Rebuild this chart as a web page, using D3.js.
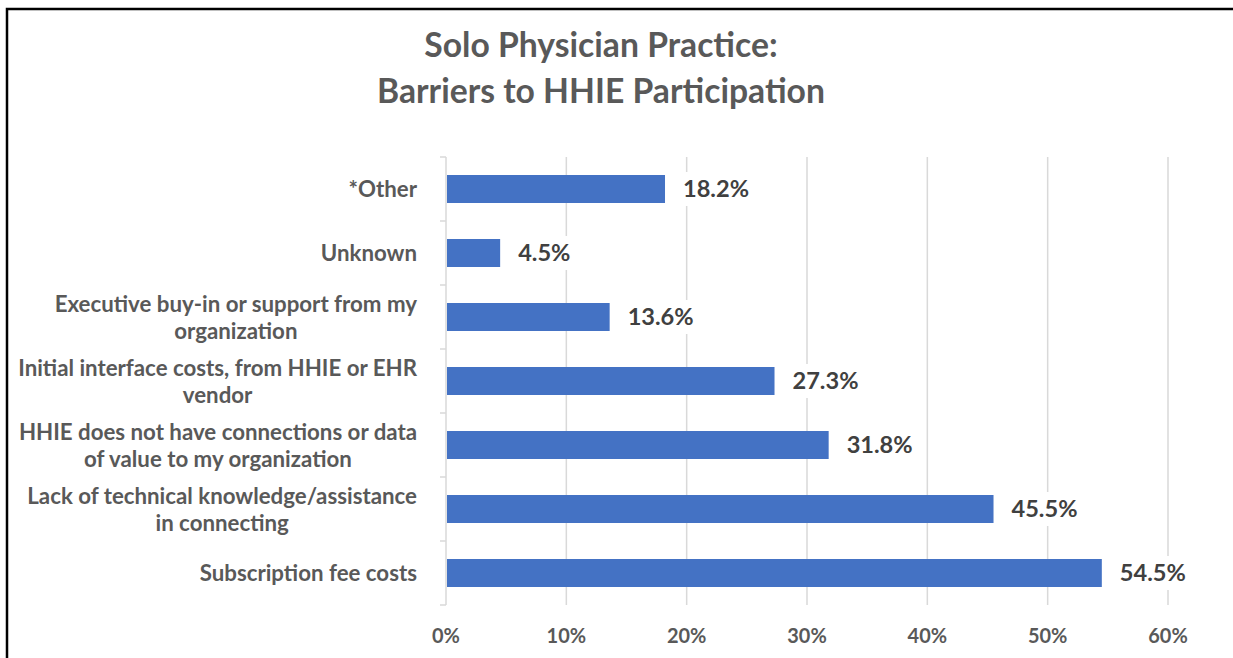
<!DOCTYPE html>
<html>
<head>
<meta charset="utf-8">
<script src="https://cdn.jsdelivr.net/npm/d3@7"></script>
<style>
  html, body { margin: 0; padding: 0; background: #fff; }
  svg { display: block; }
  text { font-family: Lato, "Open Sans", sans-serif; font-weight: 700; }
</style>
</head>
<body>
<svg id="chart" width="1233" height="658"></svg>
<script>
// ---- data ----
const categories = [
  "*Other",
  "Unknown",
  "Executive buy-in or support from my organization",
  "Initial interface costs, from HHIE or EHR vendor",
  "HHIE does not have connections or data of value to my organization",
  "Lack of technical knowledge/assistance in connecting",
  "Subscription fee costs"
];
const categoryLines = [
  ["*Other"],
  ["Unknown"],
  ["Executive buy-in or support from my", "organization"],
  ["Initial interface costs, from HHIE or EHR", "vendor"],
  ["HHIE does not have connections or data", "of value to my organization"],
  ["Lack of technical knowledge/assistance", "in connecting"],
  ["Subscription fee costs"]
];
const values = [18.2, 4.5, 13.6, 27.3, 31.8, 45.5, 54.5];
const xTicks = [0, 10, 20, 30, 40, 50, 60];
const titleLines = ["Solo Physician Practice:", "Barriers to HHIE Participation"];

// ---- setup ----
const svg = d3.select("#chart");
const W = 1233, H = 658;

// font fitting helper: size so that reference string has target width
function fitSize(str, target) {
  const t = svg.append("text").attr("font-size", 100).text(str);
  const w = t.node().getComputedTextLength();
  t.remove();
  return 100 * target / w;
}
const titleSize = fitSize(titleLines[1], 448);
const catSize = fitSize("Lack of technical knowledge/assistance", 390);
const valSize = fitSize("18.2%", 66);
const tickSize = fitSize("10%", 39.5);

// frame
svg.append("rect")
  .attr("x", 7).attr("y", 9)
  .attr("width", W + 20).attr("height", H + 20)
  .attr("fill", "none").attr("stroke", "#000").attr("stroke-width", 2.5);

// scales
const x = d3.scaleLinear().domain([0, 60]).range([446, 1168]);
const y = d3.scaleBand().domain(categories).range([157, 605])
  .paddingInner(0.5625).paddingOuter(0.28125);

// title
svg.append("g").selectAll("text").data(titleLines).join("text")
  .attr("x", 601)
  .attr("y", (d, i) => 57 + i * 46)
  .attr("text-anchor", "middle")
  .attr("font-size", titleSize)
  .attr("fill", "#595959")
  .text(d => d);

// gridlines
svg.append("g").selectAll("line").data(xTicks.filter(d => d > 0)).join("line")
  .attr("x1", d => x(d)).attr("x2", d => x(d))
  .attr("y1", 157).attr("y2", 605)
  .attr("stroke", "#d9d9d9").attr("stroke-width", 1.5);

// category axis line + ticks
const step = y.step();
const y0 = y.range()[0];
svg.append("line")
  .attr("x1", x(0)).attr("x2", x(0))
  .attr("y1", y0).attr("y2", y.range()[1])
  .attr("stroke", "#d9d9d9").attr("stroke-width", 1.5);
svg.append("g").selectAll("line").data(d3.range(categories.length + 1)).join("line")
  .attr("x1", x(0) - 6).attr("x2", x(0))
  .attr("y1", d => y0 + d * step).attr("y2", d => y0 + d * step)
  .attr("stroke", "#d9d9d9").attr("stroke-width", 1.5);

// bars
const data = categories.map((c, i) => ({ c, v: values[i], lines: categoryLines[i] }));
svg.append("g").selectAll("rect").data(data).join("rect")
  .attr("x", x(0) + 1)
  .attr("y", d => y(d.c))
  .attr("width", d => x(d.v) - x(0) - 1)
  .attr("height", y.bandwidth())
  .attr("fill", "#4472C4");

// data labels with white background
const lab = svg.append("g").selectAll("g").data(data).join("g");
lab.each(function(d) {
  const g = d3.select(this);
  const cy = y(d.c) + y.bandwidth() / 2;
  const tx = x(d.v) + 18;
  const t = g.append("text")
    .attr("x", tx).attr("y", cy).attr("dy", "0.36em")
    .attr("font-size", valSize).attr("fill", "#404040")
    .text(d.v.toFixed(1) + "%");
  const w = t.node().getComputedTextLength();
  g.insert("rect", "text")
    .attr("x", tx - 5).attr("y", cy - 17)
    .attr("width", w + 10).attr("height", 34)
    .attr("fill", "#fff");
});

// category labels (centered block, right aligned at 417)
const catG = svg.append("g");
data.forEach(d => {
  const cy = y(d.c) + y.bandwidth() / 2;
  const n = d.lines.length;
  const tmp = d.lines.map(l => {
    const t = catG.append("text").attr("font-size", catSize).text(l);
    const w = t.node().getComputedTextLength();
    t.remove();
    return w;
  });
  const maxW = d3.max(tmp);
  const cx = 417 - maxW / 2;
  d.lines.forEach((l, i) => {
    catG.append("text")
      .attr("x", cx)
      .attr("y", cy + (i - (n - 1) / 2) * 27)
      .attr("dy", "0.36em")
      .attr("text-anchor", "middle")
      .attr("font-size", catSize)
      .attr("fill", "#595959")
      .text(l);
  });
});

// x axis labels
svg.append("g").selectAll("text").data(xTicks).join("text")
  .attr("x", d => x(d))
  .attr("y", 643)
  .attr("text-anchor", "middle")
  .attr("font-size", tickSize)
  .attr("fill", "#595959")
  .text(d => d + "%");
</script>
</body>
</html>
